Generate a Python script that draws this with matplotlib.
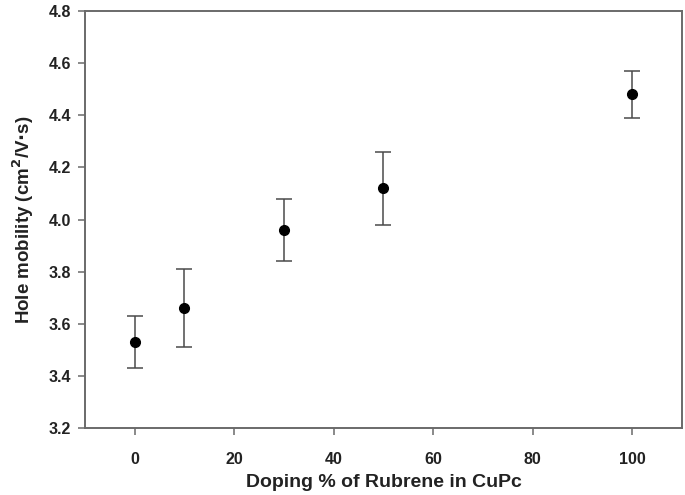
import matplotlib
matplotlib.use('Agg')
import matplotlib.pyplot as plt

doping = [0, 10, 30, 50, 100]
mobility = [3.53, 3.66, 3.96, 4.12, 4.48]
mobility_err = [0.10, 0.15, 0.12, 0.14, 0.09]

x_ticks = [0, 20, 40, 60, 80, 100]
y_ticks = [3.2, 3.4, 3.6, 3.8, 4.0, 4.2, 4.4, 4.6, 4.8]

plt.rcParams['font.family'] = ['Liberation Sans', 'DejaVu Sans']
plt.rcParams['font.weight'] = 'bold'

fig = plt.figure(figsize=(6.85, 4.95), dpi=100)
ax = fig.add_axes([0.124, 0.135, 0.8716, 0.843])

ax.errorbar(doping, mobility, yerr=mobility_err, fmt='o', color='black',
            markersize=7, ecolor='#4a4a4a', elinewidth=1.1, capsize=6, capthick=1.1)

ax.set_xlim(-10, 110)
ax.set_ylim(3.2, 4.8)
ax.set_xticks(x_ticks)
ax.set_yticks(y_ticks)
ax.set_yticklabels([f'{v:.1f}' for v in y_ticks])

for s in ax.spines.values():
    s.set_color('#6a6a6a')
    s.set_linewidth(1.4)
ax.tick_params(direction='out', length=5, width=1.1, color='#6a6a6a',
               labelsize=11.5, labelcolor='#222222', pad=5)
ax.tick_params(axis='x', pad=12)

ax.set_xlabel('Doping % of Rubrene in CuPc', fontsize=14, fontweight='bold',
              color='#222222', labelpad=5)
ax.set_ylabel('Hole mobility (cm$^\\mathbf{2}$/V$\\cdot$s)', fontsize=13.5, fontweight='bold',
              color='#222222', labelpad=9)

fig.savefig('out.png', dpi=100)
